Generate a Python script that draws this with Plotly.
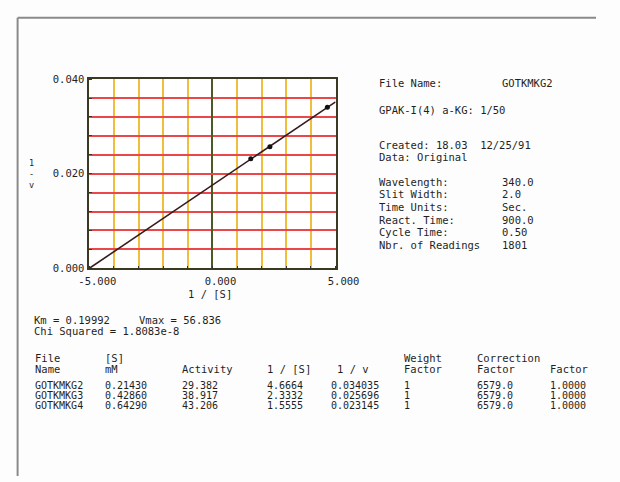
import plotly.graph_objects as go

# ---------------- data ----------------
file_names = ["GOTKMKG2", "GOTKMKG3", "GOTKMKG4"]
s_mM = ["0.21430", "0.42860", "0.64290"]
activity = ["29.382", "38.917", "43.206"]
inv_s = [4.6664, 2.3332, 1.5555]
inv_v = [0.034035, 0.025696, 0.023145]
inv_s_txt = ["4.6664", "2.3332", "1.5555"]
inv_v_txt = ["0.034035", "0.025696", "0.023145"]
weight = ["1", "1", "1"]
correction = ["6579.0", "6579.0", "6579.0"]
factor = ["1.0000", "1.0000", "1.0000"]

fit_x = [-5.0, 5.0]
fit_y = [0.0000, 0.0352]

x_tickvals = [-5, 0, 5]
x_ticktext = ["-5.000", "0.000", "5.000"]
y_tickvals = [0.0, 0.02, 0.04]
y_ticktext = ["0.000", "0.020", "0.040"]

info_labels = ["Wavelength:", "Slit Width:", "Time Units:", "React. Time:", "Cycle Time:", "Nbr. of Readings"]
info_values = ["340.0", "2.0", "Sec.", "900.0", "0.50", "1801"]

# ---------------- layout helpers ----------------
W, H = 620, 482
FONT = "DejaVu Sans Mono, Liberation Mono, monospace"
TXT = "#1f1f1f"
FS = 10.5


def ann(text, x, y, xanchor="left", size=FS):
    return dict(text=text, x=x / W, y=1 - y / H, xref="paper", yref="paper",
                xanchor=xanchor, yanchor="middle", showarrow=False,
                font=dict(family=FONT, size=size, color=TXT))


fig = go.Figure()

fig.add_trace(go.Scatter(x=fit_x, y=fit_y, mode="lines",
                         line=dict(color="#361c1c", width=1.6),
                         showlegend=False, hoverinfo="skip"))
fig.add_trace(go.Scatter(x=inv_s, y=inv_v, mode="markers",
                         marker=dict(color="#111111", size=5),
                         showlegend=False))

px_l, px_r, px_t, px_b = 83, 344, 75, 269

fig.update_xaxes(
    range=[-5, 5], domain=[px_l / W, px_r / W],
    tickmode="array", tickvals=x_tickvals, ticktext=x_ticktext,
    showgrid=True, gridcolor="#4e5a24", gridwidth=1.6,
    minor=dict(dtick=1, tick0=-5, showgrid=True, gridcolor="#f2bc3c", gridwidth=1.8,
               ticks="inside", ticklen=3, tickcolor="#333"),
    ticks="", zeroline=False,
    showline=True, linecolor="#3a3a22", linewidth=1.6, mirror=True,
    ticklabelshift=8, ticklabelstandoff=2,
    tickfont=dict(family=FONT, size=FS, color=TXT),
)
fig.update_yaxes(
    range=[0, 0.04], domain=[1 - px_b / H, 1 - px_t / H],
    tickmode="array", tickvals=y_tickvals, ticktext=y_ticktext,
    showgrid=True, gridcolor="#e9474a", gridwidth=1.6,
    minor=dict(dtick=0.004, tick0=0, showgrid=True, gridcolor="#e9474a", gridwidth=1.6,
               ticks="inside", ticklen=3, tickcolor="#333"),
    ticks="", zeroline=False,
    showline=True, linecolor="#3a3a22", linewidth=1.6, mirror=True,
    ticklabelstandoff=1,
    tickfont=dict(family=FONT, size=FS, color=TXT),
)

annotations = []
# axis titles
annotations.append(ann("1 / [S]", 211, 295, xanchor="center"))
annotations.append(ann("1<br>-<br>v", 22, 172, xanchor="center", size=8.5))

# right information panel
annotations.append(ann("File Name:", 388, 79))
annotations.append(ann(file_names[0], 518, 79))
annotations.append(ann("GPAK-I(4) a-KG: 1/50", 388, 107))
annotations.append(ann("Created: 18.03  12/25/91", 388, 143))
annotations.append(ann("Data: Original", 388, 155))
for i, (lab, val) in enumerate(zip(info_labels, info_values)):
    yy = 180 + i * 13
    annotations.append(ann(lab, 388, yy))
    annotations.append(ann(val, 518, yy))

# results
annotations.append(ann("Km = 0.19992", 22, 322))
annotations.append(ann("Vmax = 56.836", 134, 322))
annotations.append(ann("Chi Squared = 1.8083e-8", 22, 333.5))

# table headers
col_x = [23, 97, 179, 269, 337, 414, 492, 569]
annotations.append(ann("File", col_x[0], 361))
annotations.append(ann("Name", col_x[0], 372))
annotations.append(ann("[S]", col_x[1], 361))
annotations.append(ann("mM", col_x[1], 372))
annotations.append(ann("Activity", col_x[2], 372))
annotations.append(ann("1 / [S]", col_x[3], 372))
annotations.append(ann("1 / v", 343, 372))
annotations.append(ann("Weight", col_x[5], 361))
annotations.append(ann("Factor", col_x[5], 372))
annotations.append(ann("Correction", col_x[6], 361))
annotations.append(ann("Factor", col_x[6], 372))
annotations.append(ann("Factor", col_x[7], 372))

row_y = [389.5, 399.5, 409.5]
for r in range(3):
    vals = [file_names[r], s_mM[r], activity[r], inv_s_txt[r], inv_v_txt[r],
            weight[r], correction[r], factor[r]]
    for cx, v in zip(col_x, vals):
        annotations.append(ann(v, cx, row_y[r], size=10))

shapes = [
    dict(type="line", xref="paper", yref="paper", x0=7 / W, x1=7 / W, y0=0, y1=1 - 12 / H,
         line=dict(color="#8a8a8a", width=2)),
    dict(type="line", xref="paper", yref="paper", x0=7 / W, x1=1, y0=1 - 12 / H, y1=1 - 12 / H,
         line=dict(color="#8a8a8a", width=2)),
]

fig.update_layout(
    width=W, height=H, margin=dict(l=0, r=0, t=0, b=0),
    paper_bgcolor="#fdfdfd", plot_bgcolor="#ffffff",
    annotations=annotations, shapes=shapes, showlegend=False,
    font=dict(family=FONT, size=FS, color=TXT),
)

fig.write_html(
    "out.html",
    config={"displayModeBar": False},
    post_script="document.body.style.margin='0';document.body.style.overflow='hidden';",
)
